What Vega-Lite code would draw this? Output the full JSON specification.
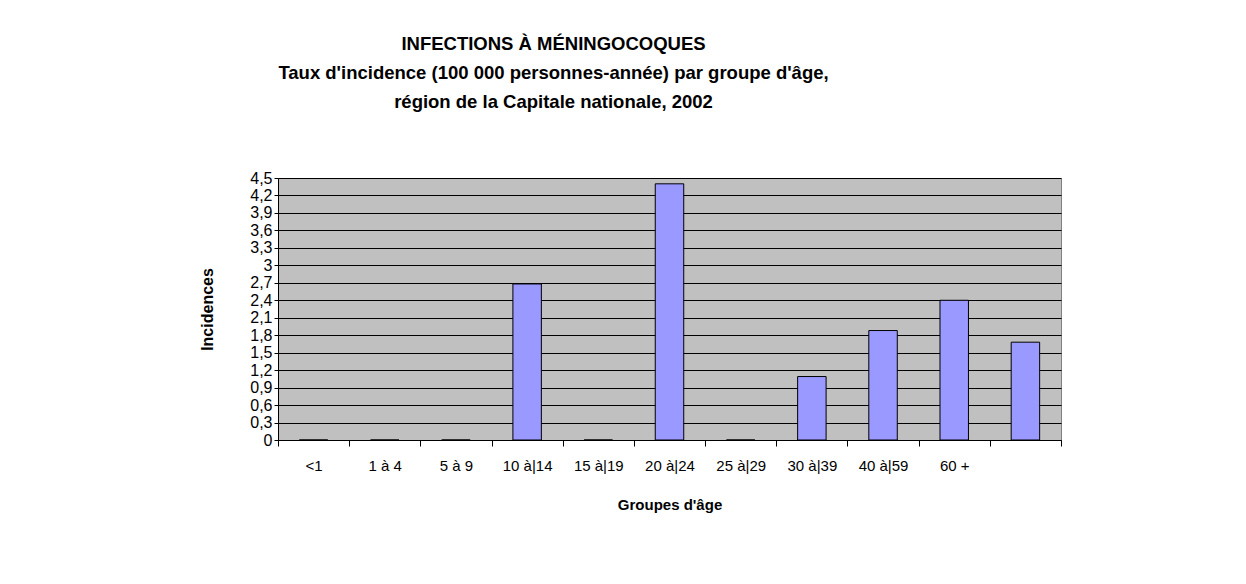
{
  "$schema": "https://vega.github.io/schema/vega-lite/v6.json",
  "width": 783,
  "height": 262,
  "autosize": {"type": "none"},
  "padding": {"left": 278, "top": 178, "right": 185, "bottom": 144},
  "background": "white",
  "config": {
    "font": "Liberation Sans",
    "view": {"fill": "#c0c0c0", "stroke": "#808080", "strokeWidth": 1}
  },
  "title": {
    "text": [
      "INFECTIONS À MÉNINGOCOQUES",
      "Taux d'incidence (100 000 personnes-année) par groupe d'âge,",
      "région de la Capitale nationale, 2002"
    ],
    "font": "Liberation Sans",
    "fontSize": 18.5,
    "fontWeight": "bold",
    "color": "black",
    "lineHeight": 29,
    "anchor": "middle",
    "dx": -116,
    "offset": 59
  },
  "data": {
    "values": [
      {"groupe": "<1", "incidence": 0},
      {"groupe": "1 à 4", "incidence": 0},
      {"groupe": "5 à 9", "incidence": 0},
      {"groupe": "10 à 14", "incidence": 2.68},
      {"groupe": "15 à 19", "incidence": 0},
      {"groupe": "20 à 24", "incidence": 4.4},
      {"groupe": "25 à 29", "incidence": 0},
      {"groupe": "30 à 39", "incidence": 1.09},
      {"groupe": "40 à 59", "incidence": 1.88},
      {"groupe": "60 +", "incidence": 2.4},
      {"groupe": "Total", "incidence": 1.68}
    ]
  },
  "mark": {"type": "bar", "color": "#9999ff", "stroke": "black", "strokeWidth": 1, "width": {"band": 0.4}},
  "encoding": {
    "x": {
      "field": "groupe",
      "type": "nominal",
      "sort": null,
      "scale": {"paddingInner": 0, "paddingOuter": 0},
      "axis": {
        "title": "Groupes d'âge",
        "titleFontSize": 15,
        "titleFontWeight": "bold",
        "titleColor": "black",
        "titlePadding": 24,
        "labelAngle": 0,
        "labelFontSize": 15,
        "labelColor": "black",
        "labelPadding": 12,
        "labelExpr": "datum.value == 'Total' ? '' : (indexof(['10 à 14', '15 à 19', '20 à 24', '25 à 29', '30 à 39', '40 à 59'], datum.value) >= 0 ? replace(datum.value, 'à ', 'à|') : datum.value)",
        "encode": {"labels": {"update": {"lineBreak": {"value": "|"}, "lineHeight": {"value": 29}}}},
        "tickBand": "extent",
        "tickColor": "black",
        "tickSize": 6,
        "domainColor": "black",
        "grid": false
      }
    },
    "y": {
      "field": "incidence",
      "type": "quantitative",
      "scale": {"domain": [0, 4.5], "nice": false},
      "axis": {
        "title": "Incidences",
        "titleFontSize": 16,
        "titleFontWeight": "bold",
        "titleColor": "black",
        "titlePadding": 34,
        "values": [0, 0.3, 0.6, 0.9, 1.2, 1.5, 1.8, 2.1, 2.4, 2.7, 3, 3.3, 3.6, 3.9, 4.2, 4.5],
        "labelExpr": "replace(format(datum.value, '.1~f'), '.', ',')",
        "labelFontSize": 16,
        "labelColor": "black",
        "labelPadding": 2,
        "tickColor": "black",
        "tickSize": 4,
        "domainColor": "black",
        "grid": true,
        "gridColor": "black",
        "gridOpacity": 1,
        "gridWidth": 1
      }
    }
  }
}
